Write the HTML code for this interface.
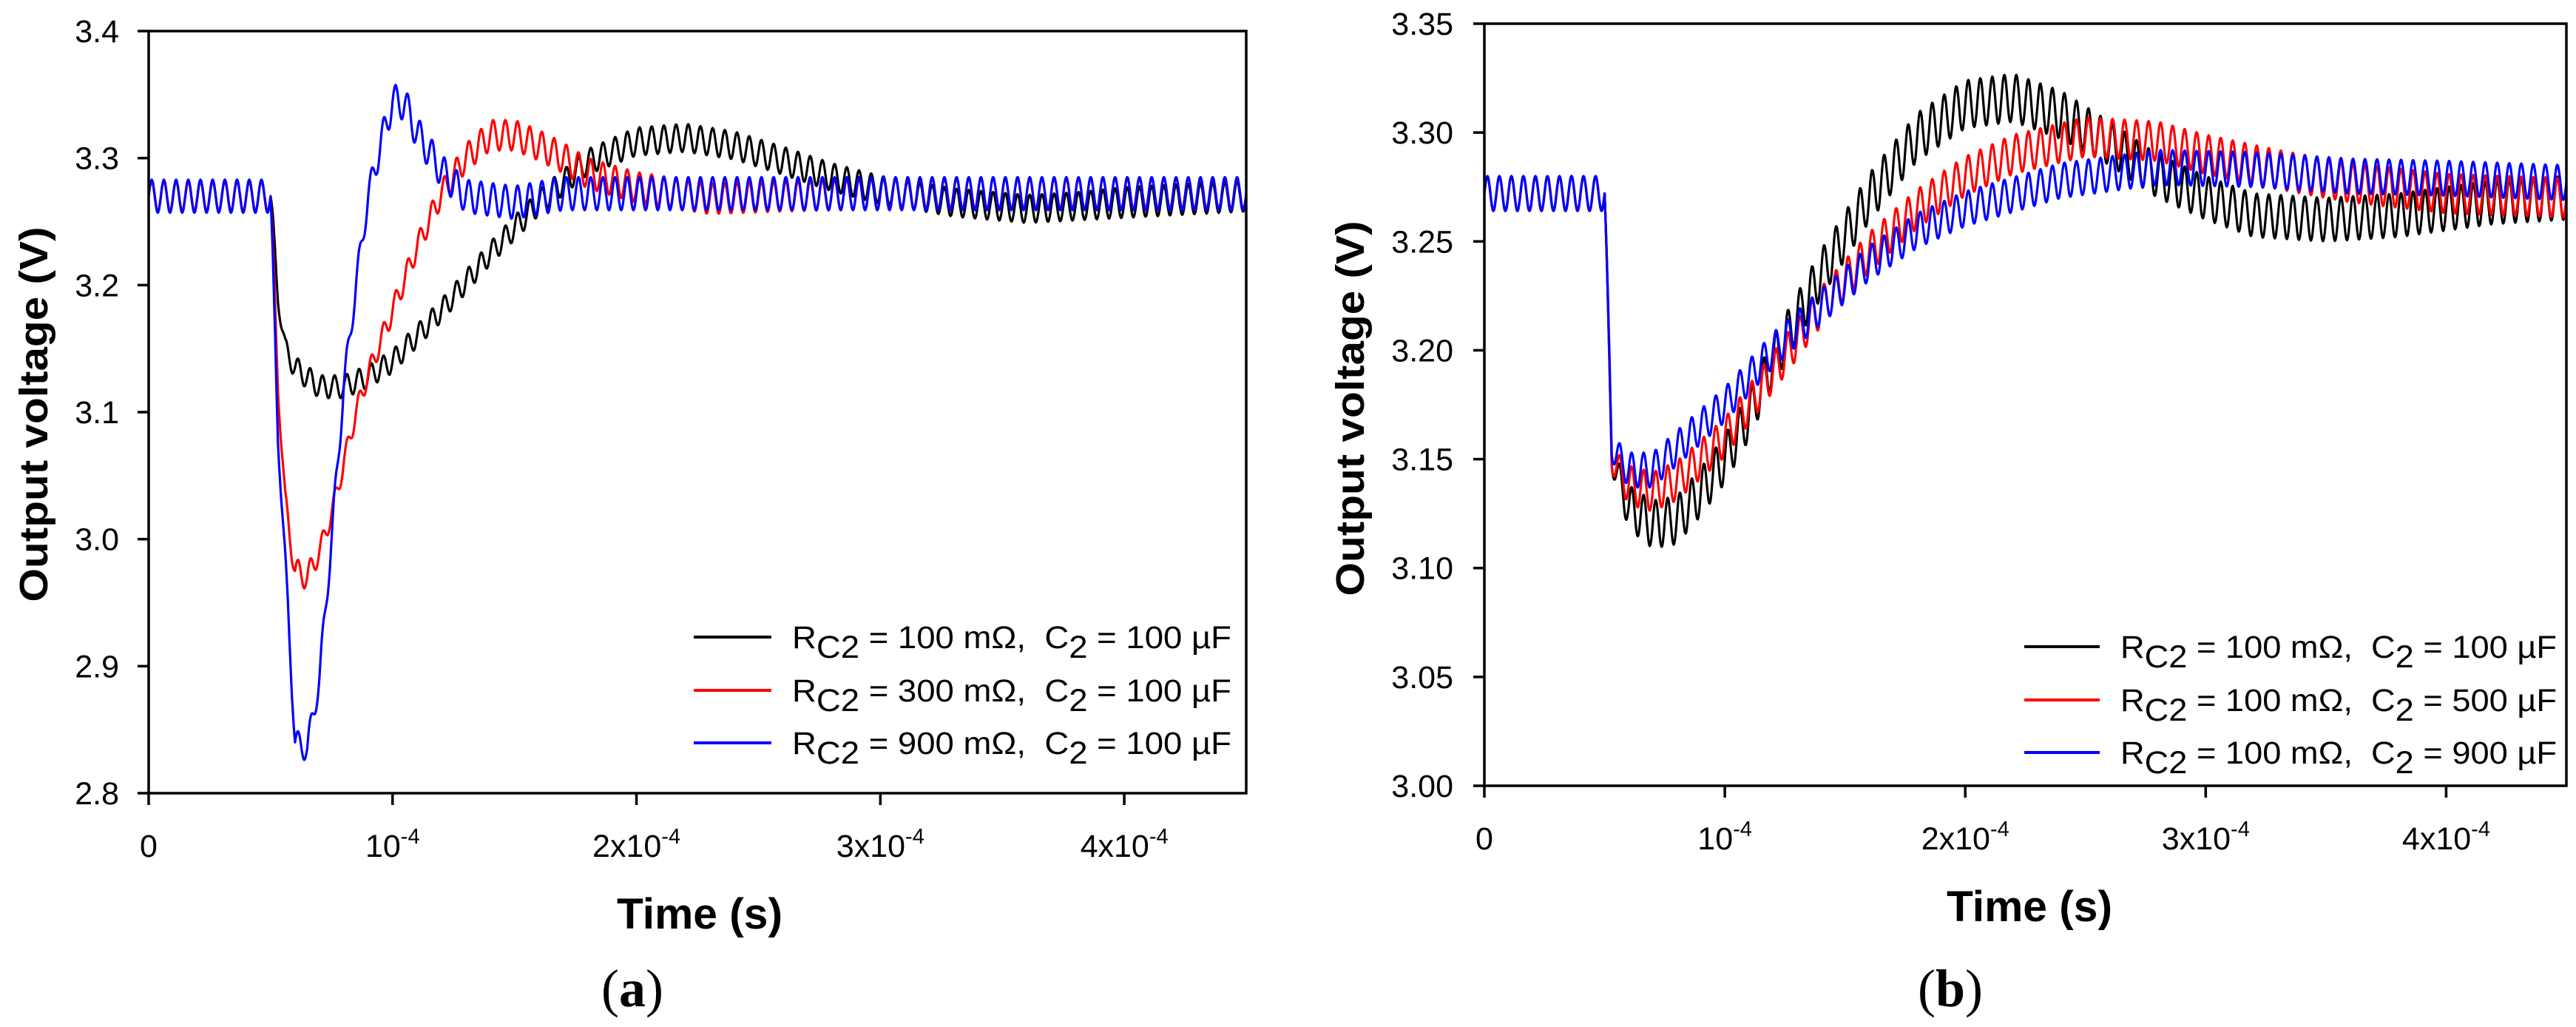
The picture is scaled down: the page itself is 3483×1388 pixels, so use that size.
<!DOCTYPE html>
<html><head><meta charset="utf-8"><style>
html,body{margin:0;padding:0;background:#fff;}
svg{display:block;}
text{font-family:"Liberation Sans",Arial,sans-serif;fill:#000;}
</style></head><body>
<svg id="fig" width="3483" height="1388" viewBox="0 0 3483 1388" xmlns="http://www.w3.org/2000/svg"></svg>
<script>
// ---------- data (time in units of 1e-4 s, voltage in V) ----------
const xTicks = [0, 1, 2, 3, 4];
const xTickLabels = ["0", "10", "2x10", "3x10", "4x10"];
const yTicksA = [2.8, 2.9, 3.0, 3.1, 3.2, 3.3, 3.4];
const yTicksB = [3.00, 3.05, 3.10, 3.15, 3.20, 3.25, 3.30, 3.35];

// Panel (a) mean curves
const aBlackT = [0, 0.5, 0.53, 0.56, 0.6, 0.7, 0.8, 0.9, 1.0, 1.2, 1.4, 1.6, 1.8, 2.0, 2.2, 2.4, 2.6, 2.8, 3.0, 3.3, 3.6, 3.8, 4.0, 4.5];
const aBlackV = [3.27, 3.27, 3.19, 3.15, 3.135, 3.12, 3.12, 3.128, 3.14, 3.18, 3.225, 3.265, 3.297, 3.313, 3.316, 3.31, 3.298, 3.285, 3.275, 3.265, 3.26, 3.262, 3.265, 3.27];
const aBlackA = [0.012, 0.012, 0.006, 0.008, 0.009, 0.009, 0.009, 0.009, 0.009, 0.009, 0.009, 0.01, 0.01, 0.011, 0.011, 0.011, 0.011, 0.011, 0.011, 0.011, 0.011, 0.011, 0.012, 0.012];
const aRedT = [0, 0.5, 0.53, 0.56, 0.6, 0.65, 0.7, 0.75, 0.8, 0.85, 0.9, 1.0, 1.1, 1.2, 1.3, 1.4, 1.5, 1.6, 1.7, 1.8, 2.0, 2.3, 2.6, 3.0, 4.5];
const aRedV = [3.27, 3.27, 3.12, 3.03, 2.975, 2.97, 2.99, 3.02, 3.06, 3.1, 3.13, 3.18, 3.23, 3.272, 3.3, 3.318, 3.318, 3.31, 3.3, 3.288, 3.277, 3.268, 3.27, 3.272, 3.272];
const aRedA = [0.012, 0.012, 0.006, 0.008, 0.01, 0.01, 0.008, 0.008, 0.008, 0.008, 0.008, 0.009, 0.009, 0.01, 0.011, 0.012, 0.012, 0.012, 0.012, 0.012, 0.012, 0.012, 0.012, 0.012, 0.012];
const aBlueT = [0, 0.5, 0.53, 0.57, 0.6, 0.65, 0.7, 0.75, 0.8, 0.85, 0.9, 0.95, 1.0, 1.05, 1.1, 1.2, 1.3, 1.5, 1.7, 2.0, 4.5];
const aBlueV = [3.27, 3.27, 3.08, 2.95, 2.84, 2.835, 2.89, 3.0, 3.12, 3.2, 3.27, 3.31, 3.345, 3.343, 3.32, 3.29, 3.27, 3.265, 3.272, 3.272, 3.272];
const aBlueA = [0.013, 0.013, 0.006, 0.008, 0.01, 0.01, 0.01, 0.01, 0.01, 0.01, 0.01, 0.012, 0.013, 0.013, 0.013, 0.013, 0.013, 0.013, 0.013, 0.013, 0.013];

// Panel (b) mean curves
const bBlackT = [0, 0.5, 0.53, 0.6, 0.7, 0.8, 0.9, 1.0, 1.1, 1.2, 1.4, 1.6, 1.8, 2.0, 2.2, 2.4, 2.6, 2.8, 3.0, 3.2, 3.5, 3.8, 4.2, 4.5];
const bBlackV = [3.272, 3.272, 3.15, 3.128, 3.12, 3.122, 3.135, 3.15, 3.17, 3.195, 3.235, 3.27, 3.298, 3.313, 3.316, 3.308, 3.295, 3.28, 3.27, 3.262, 3.26, 3.262, 3.268, 3.27];
const bBlackA = [0.008, 0.008, 0.006, 0.01, 0.011, 0.011, 0.011, 0.011, 0.011, 0.011, 0.011, 0.011, 0.011, 0.011, 0.011, 0.011, 0.01, 0.01, 0.01, 0.01, 0.01, 0.01, 0.01, 0.01];
const bRedT = [0, 0.5, 0.53, 0.6, 0.7, 0.8, 1.0, 1.2, 1.4, 1.6, 1.8, 2.0, 2.2, 2.5, 2.8, 3.0, 3.3, 3.6, 4.0, 4.5];
const bRedV = [3.272, 3.272, 3.15, 3.138, 3.135, 3.14, 3.16, 3.19, 3.22, 3.245, 3.265, 3.28, 3.29, 3.298, 3.296, 3.29, 3.283, 3.277, 3.272, 3.27];
const bRedA = [0.008, 0.008, 0.006, 0.009, 0.009, 0.009, 0.009, 0.009, 0.009, 0.009, 0.009, 0.009, 0.009, 0.009, 0.009, 0.009, 0.009, 0.009, 0.009, 0.009];
const bBlueT = [0, 0.5, 0.53, 0.6, 0.7, 0.8, 1.0, 1.2, 1.4, 1.6, 1.8, 2.0, 2.4, 2.8, 3.2, 3.6, 4.0, 4.5];
const bBlueV = [3.272, 3.272, 3.155, 3.145, 3.145, 3.155, 3.175, 3.2, 3.22, 3.24, 3.255, 3.265, 3.278, 3.284, 3.283, 3.28, 3.279, 3.277];
const bBlueA = [0.008, 0.008, 0.006, 0.008, 0.008, 0.008, 0.008, 0.008, 0.008, 0.008, 0.008, 0.008, 0.008, 0.008, 0.008, 0.008, 0.008, 0.008];

const legendA = [["100", "100"], ["300", "100"], ["900", "100"]];
const legendB = [["100", "100"], ["100", "500"], ["100", "900"]];
const colors = ["#000000", "#ff0000", "#0000ff"];
const ripplePeriod = 0.05; // switching period, 1e-4 s units

// ---------- rendering ----------
const NS = "http://www.w3.org/2000/svg";
const svg = document.getElementById("fig");
function mk(tag, attrs, parent) {
  const e = document.createElementNS(NS, tag);
  for (const k in attrs) e.setAttribute(k, attrs[k]);
  (parent || svg).appendChild(e);
  return e;
}
function interp(ts, vs, t) {
  if (t <= ts[0]) return vs[0];
  for (let i = 1; i < ts.length; i++) {
    if (t <= ts[i]) { const f = (t - ts[i-1]) / (ts[i] - ts[i-1]); return vs[i-1] + f * (vs[i] - vs[i-1]); }
  }
  return vs[vs.length - 1];
}

function panel(cfg) {
  const g = mk("g", {});
  
  
  const X = t => cfg.x0 + (t - 0) / 4.5 * (cfg.x1 - cfg.x0);
  const Y = v => cfg.yb - (v - cfg.ymin) / (cfg.ymax - cfg.ymin) * (cfg.yb - cfg.yt);

  cfg.series.forEach((s, si) => {
    let d = "";
    for (let t = 0; t <= 4.5 + 1e-9; t += 0.0025) {
      const m = interp(s.t, s.v, t), a = interp(s.t, s.a, t);
      const v = m + a * Math.sin(2 * Math.PI * t / ripplePeriod);
      d += (d ? "L" : "M") + X(t).toFixed(1) + " " + Y(v).toFixed(1);
    }
    const p = mk("path", {d: d, fill: "none", stroke: colors[si], "stroke-width": 3.2, "stroke-linejoin": "round"}, g);
    
    
  });

  const fr = mk("rect", {x: cfg.x0, y: cfg.yt, width: cfg.x1 - cfg.x0, height: cfg.yb - cfg.yt, fill: "none", stroke: "#000", "stroke-width": 3.5}, g);
  
  

  cfg.yTicks.forEach(v => {
    const y = Y(v);
    mk("line", {x1: cfg.x0 - 15, x2: cfg.x0, y1: y, y2: y, stroke: "#000", "stroke-width": 3.5}, g);
    const tx = mk("text", {x: cfg.ylabX, y: y + 15, "font-size": 43, "text-anchor": "end"}, g);
    tx.textContent = v.toFixed(cfg.dec);
    
    
  });
  xTicks.forEach((t, i) => {
    const x = X(t);
    mk("line", {x1: x, x2: x, y1: cfg.yb, y2: cfg.yb + 16, stroke: "#000", "stroke-width": 3.5}, g);
    const tx = mk("text", {x: x, y: cfg.yb + 86, "font-size": 43, "text-anchor": "middle"}, g);
    
    
    if (i === 0) tx.textContent = xTickLabels[i];
    else {
      const a = mk("tspan", {}, tx); a.textContent = xTickLabels[i];
      const b = mk("tspan", {dy: -18, "font-size": 29}, tx); b.textContent = "-4";
    }
  });

  const yt = mk("text", {x: 0, y: 0, "font-size": 54, "font-weight": "bold", "text-anchor": "middle", textLength: 507, lengthAdjust: "spacingAndGlyphs",
    transform: "translate(" + cfg.yTitleX + "," + cfg.yTitleY + ") rotate(-90)"}, g);
  yt.textContent = "Output voltage (V)";
  
  
  const xt = mk("text", {x: cfg.xTitleX, y: cfg.yb + 183, "font-size": 58, "font-weight": "bold", "text-anchor": "middle", textLength: 224, lengthAdjust: "spacingAndGlyphs"}, g);
  xt.textContent = "Time (s)";
  
  
  const cap = mk("text", {x: cfg.capX, y: 1360, "font-size": 72, "text-anchor": "middle", style: 'font-family:"Liberation Serif",serif'}, g);
  
  
  const c1 = mk("tspan", {}, cap); c1.textContent = "(";
  const c2 = mk("tspan", {"font-weight": "bold"}, cap); c2.textContent = cfg.cap;
  const c3 = mk("tspan", {}, cap); c3.textContent = ")";

  cfg.legend.forEach((L, i) => {
    const y = cfg.legY[i];
    const le = mk("g", {}, g);
    
    
    mk("line", {x1: cfg.legLineX0, x2: cfg.legLineX1, y1: y, y2: y, stroke: colors[i], "stroke-width": 4}, le);
    const t = mk("text", {x: cfg.legTextX, y: y + 15, "font-size": 43, textLength: cfg.legTextW, lengthAdjust: "spacingAndGlyphs"}, le);
    let s = mk("tspan", {}, t); s.textContent = "R";
    s = mk("tspan", {dy: 13}, t); s.textContent = "C2";
    s = mk("tspan", {dy: -13}, t); s.textContent = " = " + L[0] + " m\u03A9,\u00A0 C";
    s = mk("tspan", {dy: 13}, t); s.textContent = "2";
    s = mk("tspan", {dy: -13}, t); s.textContent = " = " + L[1] + " \u00B5F";
  });
}

panel({name: "panel-a", x0: 201, x1: 1685, yt: 42, yb: 1072, ymin: 2.8, ymax: 3.4, yTicks: yTicksA, dec: 1, ylabX: 161,
  series: [{t: aBlackT, v: aBlackV, a: aBlackA}, {t: aRedT, v: aRedV, a: aRedA}, {t: aBlueT, v: aBlueV, a: aBlueA}],
  yTitleX: 64, yTitleY: 560, xTitleX: 946, capX: 855, cap: "a",
  legend: legendA, legY: [861, 933, 1004], legLineX0: 938, legLineX1: 1043, legTextX: 1071, legTextW: 594});
panel({name: "panel-b", x0: 2007, x1: 3470, yt: 32, yb: 1062, ymin: 3.0, ymax: 3.35, yTicks: yTicksB, dec: 2, ylabX: 1965,
  series: [{t: bBlackT, v: bBlackV, a: bBlackA}, {t: bRedT, v: bRedV, a: bRedA}, {t: bBlueT, v: bBlueV, a: bBlueA}],
  yTitleX: 1844, yTitleY: 552, xTitleX: 2744, capX: 2637, cap: "b",
  legend: legendB, legY: [874, 946, 1017], legLineX0: 2737, legLineX1: 2839, legTextX: 2867, legTextW: 590});
</script>
</body></html>
